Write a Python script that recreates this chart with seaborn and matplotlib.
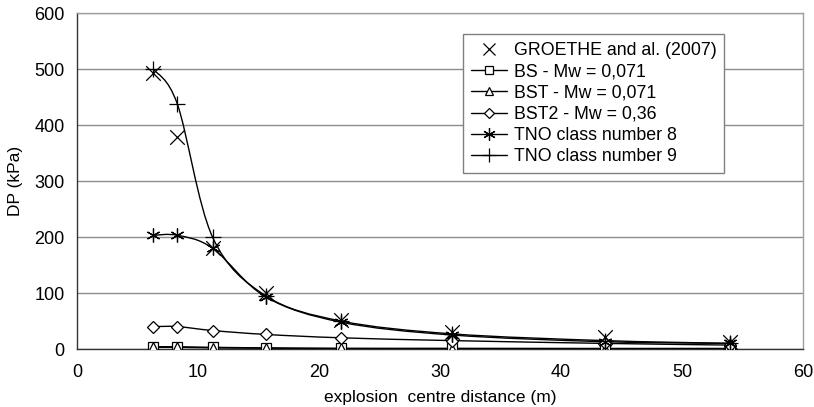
import numpy as np
import pandas as pd
import matplotlib
matplotlib.use("Agg")
import matplotlib.pyplot as plt
from matplotlib.path import Path
from matplotlib.patches import PathPatch
from matplotlib.lines import Line2D
import seaborn as sns

distance = [6.3, 8.3, 11.2, 15.6, 21.8, 31.0, 43.6, 54.0]
groethe = [493, 378, 180, 100, 52, 30, 22, 12]
bs = [4, 4, 3, 2, 1, 1, 1, 1]
bst = [3, 3, 2, 1.5, 1, 0.8, 0.5, 0.5]
bst2 = [40, 40, 33, 26, 20, 15, 10, 7]
tno8 = [203, 203, 180, 93, 48, 25, 13, 10]
tno9 = [500, 437, 200, 95, 50, 27, 15, 10]

labels = ["GROETHE and al. (2007)", "BS - Mw = 0,071", "BST - Mw = 0,071",
          "BST2 - Mw = 0,36", "TNO class number 8", "TNO class number 9"]

sns.set_style("white")
plt.rcParams['font.family'] = ['Liberation Sans', 'DejaVu Sans']
plt.rcParams['text.color'] = 'black'
plt.rcParams['axes.labelcolor'] = 'black'
plt.rcParams['xtick.color'] = 'black'
plt.rcParams['ytick.color'] = 'black'

fig = plt.figure(figsize=(8.14, 4.07), dpi=100)
ax = fig.add_axes([77/814, 1-349/407, (803-77)/814, (349-13)/407])


def smooth_path(xs, ys):
    p = np.column_stack([xs, ys]).astype(float)
    n = len(p)
    verts = [p[0]]
    codes = [Path.MOVETO]
    for i in range(n - 1):
        p0 = p[i - 1] if i > 0 else p[i]
        p1 = p[i]
        p2 = p[i + 1]
        p3 = p[i + 2] if i + 2 < n else p[i + 1]
        c1 = p1 + (p2 - p0) / 6.0
        c2 = p2 - (p3 - p1) / 6.0
        verts += [c1, c2, p2]
        codes += [Path.CURVE4] * 3
    return Path(verts, codes)


series = [
    (bs, 's', 7),
    (bst, '^', 7),
    (bst2, 'D', 6),
    (tno8, (6, 2, 0), 10),
    (tno9, '+', 11),
]

for vals, mk, ms in series:
    ax.add_patch(PathPatch(smooth_path(distance, vals), facecolor='none',
                           edgecolor='black', lw=1.0, zorder=3))

for vals, mk, ms in series:
    filled = mk in ('s', '^', 'D')
    ax.plot(distance, vals, linestyle='none', marker=mk, markersize=ms,
            markerfacecolor='white' if filled else 'black',
            markeredgecolor='black', markeredgewidth=0.9, zorder=4)

sns.scatterplot(x=distance, y=groethe, marker='x', s=110, color='black',
                linewidth=0.9, ax=ax, zorder=5)

ax.set_xlim(0, 60)
ax.set_ylim(0, 600)
ax.set_xticks(range(0, 61, 10))
ax.set_yticks(range(0, 601, 100))
ax.yaxis.grid(True, color='#8c8c8c', lw=1.0)
ax.set_axisbelow(True)
for s in ['top', 'right']:
    ax.spines[s].set_color('#a0a0a0')
    ax.spines[s].set_linewidth(1.0)
for s in ['left', 'bottom']:
    ax.spines[s].set_color('#333333')
    ax.spines[s].set_linewidth(1.0)
ax.tick_params(axis='both', direction='out', length=4, width=1.0,
               color='#333333', labelcolor='black', labelsize=13, pad=4)
ax.tick_params(axis='y', pad=5)
ax.tick_params(axis='x', pad=7)
ax.set_xlabel("explosion  centre distance (m)", fontsize=12.5, labelpad=6)
ax.set_ylabel("DP (kPa)", fontsize=12.5, labelpad=8)

handles = [
    Line2D([], [], linestyle='none', marker='x', markersize=9, color='black', markeredgewidth=0.9),
    Line2D([], [], color='black', lw=1, marker='s', markersize=6, markerfacecolor='white', markeredgewidth=0.9),
    Line2D([], [], color='black', lw=1, marker='^', markersize=6, markerfacecolor='white', markeredgewidth=0.9),
    Line2D([], [], color='black', lw=1, marker='D', markersize=5, markerfacecolor='white', markeredgewidth=0.9),
    Line2D([], [], color='black', lw=1, marker=(6, 2, 0), markersize=9, markeredgewidth=0.9),
    Line2D([], [], color='black', lw=1, marker='+', markersize=10, markeredgewidth=0.9),
]
leg = ax.legend(handles, labels, loc='upper left', bbox_to_anchor=((463-77)/726, 1-(34-13)/336),
                frameon=True, fancybox=False, framealpha=1, edgecolor='#808080',
                fontsize=12.8, handlelength=2.0, handletextpad=0.4, labelspacing=0.24,
                borderpad=0.45, borderaxespad=0)
leg.get_frame().set_linewidth(1.0)
for t in leg.get_texts():
    t.set_color('black')

fig.savefig("out.png", dpi=100)
